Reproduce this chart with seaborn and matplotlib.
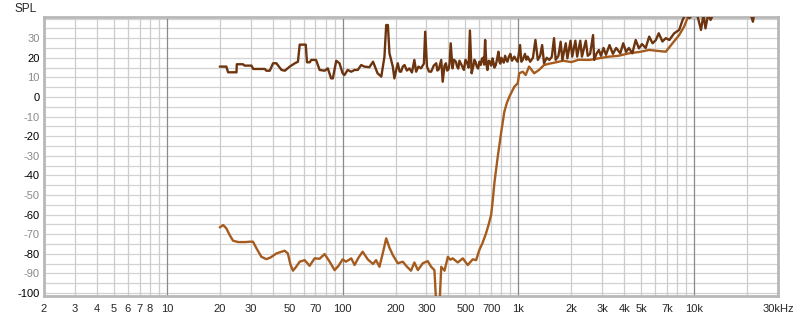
import matplotlib
matplotlib.use("Agg")
import matplotlib.pyplot as plt
import numpy as np
import pandas as pd
import seaborn as sns

# ---------------- data (frequency in Hz, SPL in dB) ----------------
light_pts = [
    (20, -66.5), (20.9, -65.3), (21.8, -67), (22.8, -70.5), (23.8, -73.3), (25.5, -74),
    (28, -74), (29.6, -73.8), (30.9, -73.8), (32.5, -77.5), (34.5, -81.5), (36.8, -82.7),
    (39, -81.8), (42, -79.8), (46.8, -78.4), (48.8, -79.8), (50.5, -85.5), (52.2, -88.6),
    (54.5, -86.5), (57, -84), (60.8, -83.2), (64.9, -86.1), (69.3, -82.3), (74, -82.5),
    (79, -80.1), (84.4, -84), (90, -88.3), (95, -86), (100, -82.8), (104.5, -84),
    (112, -82.3), (117, -85.7), (123, -82), (130, -78.9), (139, -82.8), (149, -85.2),
    (155, -83.2), (162, -86.6), (170, -79), (177, -72.1), (185, -77), (193, -80.6),
    (206, -84.8), (220, -84), (232, -86.5), (245, -88.6), (256, -84.4), (268, -88.3),
    (286, -84.8), (305, -83.7), (319, -86.6), (333, -88.3), (341, -106), (356, -106),
    (364, -86.6), (380, -88.6), (397, -81.5), (410, -83), (423, -82.3), (452, -84.4),
    (483, -82.3), (515, -85.7), (550, -82.8), (575, -83.2), (600, -78), (625, -74.5),
    (655, -69.5), (680, -64.5), (700, -60), (715, -52.6), (730, -44), (763, -30.5),
    (797, -18.5), (832, -7.5), (860, -3), (889, 0.2), (949, 5.3), (992, 7),
    (1011, 12.1), (1060, 12.9), (1100, 11.2), (1150, 15.5), (1230, 12.1), (1310, 13.8),
    (1400, 16.3), (1500, 17), (1600, 17.5), (1800, 18.5), (2000, 17.8), (2200, 19),
    (2530, 18.9), (2900, 19.8), (3290, 20.6), (3700, 21), (4275, 22.3), (4900, 23),
    (5550, 24), (6200, 23.5), (6900, 23.1), (7530, 27.4), (8220, 31.6), (8770, 35.9),
    (9160, 40.2), (9600, 45), (12000, 45), (20000, 45),
]

dark_pts = [
    (20, 15.5), (21.8, 15.5), (22.3, 12.6), (24.9, 12.6), (25, 16.7), (27.1, 16.7),
    (27.7, 16), (30.3, 16), (31, 14.3), (36.1, 14.3), (36.8, 13.4), (38.5, 13.4),
    (40.2, 17.2), (42, 17.2), (44.9, 13.8), (46.9, 13.4), (50, 15.5), (53.5, 17.2),
    (55.7, 18), (57, 26.7), (61.7, 26.7), (62.7, 17.7), (65, 17.7), (66.3, 18.9),
    (70.6, 18.9), (74, 13.8), (79, 13.4), (82.4, 14.6), (86, 9.5), (88, 9.5),
    (92, 18.5), (96, 17.2), (100, 12.1), (102.4, 11.2), (106.9, 13.8), (112, 12.9),
    (117, 13.8), (122, 13.8), (127.5, 16.3), (133, 15.5), (142, 15.2), (149, 18),
    (158, 12.1), (166, 10.4), (173, 20.6), (177, 36.7), (181, 36.7), (184.7, 22.3),
    (193, 15.5), (197, 9.5), (202, 14), (206, 17.2), (211, 13), (215, 12.9),
    (220, 15.5), (225, 16.3), (232, 13.5), (240, 14.6), (248, 12.5), (256, 18.9),
    (262, 12.9), (270, 15.5), (279, 14.6), (290, 17), (295, 33.3), (302, 15.5),
    (310, 13), (319, 12.9), (330, 16), (341, 17.2), (346, 13.5), (352, 14),
    (358, 16.5), (364, 18.9), (371, 7.8), (380, 16), (387, 17.2), (393, 13.5),
    (400, 14), (406, 17), (412, 27.4), (422, 14.6), (430, 19), (441, 18),
    (448, 15.5), (455, 14.5), (462, 18.5), (470, 17.2), (480, 15.5), (490, 13.8),
    (500, 19), (512, 17.2), (521, 15), (530, 33.9), (542, 12.1), (555, 16),
    (562, 19), (570, 18), (580, 15.5), (590, 14.5), (600, 18), (610, 16.3),
    (620, 19.5), (630, 20), (638, 16.5), (647, 29.1), (657, 17), (667, 13.8),
    (678, 18.5), (690, 18), (700, 16), (713, 19.7), (722, 17.5), (730, 15),
    (744, 16.3), (757, 19.5), (770, 23.1), (780, 18), (790, 17), (800, 20),
    (812, 18.9), (826, 17.5), (840, 21), (853, 19), (866, 18), (883, 20.5),
    (900, 22), (920, 18.5), (949, 20.6), (970, 19), (991, 18), (1022, 26.5),
    (1040, 18), (1058, 18.9), (1090, 22), (1110, 19), (1130, 20.6), (1167, 18),
    (1210, 20), (1250, 29.1), (1290, 18.9), (1330, 21), (1365, 26.5), (1400, 17.2),
    (1450, 20), (1500, 18.9), (1550, 20.5), (1595, 30), (1630, 18.9), (1690, 21),
    (1740, 28.2), (1780, 18.9), (1860, 27.4), (1900, 19.7), (1980, 28.7), (2025, 20.6),
    (2110, 28.7), (2160, 20.6), (2250, 28.7), (2300, 20.6), (2420, 28.7), (2480, 21),
    (2560, 22), (2660, 31.6), (2700, 18.9), (2780, 22), (2870, 24), (2950, 21),
    (3050, 25), (3150, 21.5), (3300, 26.5), (3450, 22), (3600, 25), (3800, 22.3),
    (3950, 27.4), (4100, 23), (4250, 25), (4450, 22.3), (4650, 29.1), (4850, 24.8),
    (5050, 27), (5300, 25), (5550, 30.8), (5800, 27.4), (6050, 29), (6290, 32.5),
    (6600, 28.3), (6900, 30), (7230, 29.1), (7700, 32.5), (8220, 34.2), (8600, 39.3),
    (8900, 42), (9400, 40.2), (9800, 42), (10400, 42), (10940, 34.2), (11300, 42),
    (11600, 35), (12000, 42), (12400, 39.3), (13000, 43), (14000, 45), (20000, 45),
    (21000, 42), (21600, 38.4), (22200, 45),
]

x_tick_vals = [2, 3, 4, 5, 6, 7, 8, 10, 20, 30, 50, 70, 100, 200, 300, 500, 700,
               1000, 2000, 3000, 4000, 5000, 7000, 10000, 30000]
x_tick_labels = ["2", "3", "4", "5", "6", "7", "8", "10", "20", "30", "50", "70", "100",
                 "200", "300", "500", "700", "1k", "2k", "3k", "4k", "5k", "7k", "10k", "30kHz"]
y_tick_vals = list(range(-100, 31, 10))

dark_color = "#6C3510"
light_color = "#A65B1E"

# ---------------- figure ----------------
sns.set_style("white")
plt.rcParams["font.family"] = ["Liberation Sans", "DejaVu Sans"]

fig = plt.figure(figsize=(8, 3.21), dpi=100)
ax = fig.add_axes([44 / 800, 25 / 321, 734 / 800, 279 / 321])

df_light = pd.DataFrame(light_pts, columns=["freq", "spl"])
df_dark = pd.DataFrame(dark_pts, columns=["freq", "spl"])

sns.lineplot(data=df_light, x="freq", y="spl", ax=ax, color=light_color,
             linewidth=1.7, sort=False, estimator=None, zorder=3)
sns.lineplot(data=df_dark, x="freq", y="spl", ax=ax, color=dark_color,
             linewidth=1.7, sort=False, estimator=None, zorder=4)

ax.set_xscale("log")
ax.set_xlim(2, 30000)
ax.set_ylim(-101.5, 40.8)

# grid
for v in range(-100, 41, 5):
    ax.axhline(v, color="#d2d2d2", lw=0.9, zorder=1)
for dec in [1, 10, 100, 1000, 10000]:
    for m in range(1, 10):
        f = m * dec
        if 2 < f < 30000:
            if m == 1:
                ax.axvline(f, color="#8a8a8a", lw=0.9, zorder=2)
            else:
                ax.axvline(f, color="#cccccc", lw=0.9, zorder=1)

ax.set_xticks(x_tick_vals)
ax.set_xticklabels(x_tick_labels)
ax.xaxis.set_minor_locator(matplotlib.ticker.NullLocator())
ax.set_yticks(y_tick_vals)
ax.set_yticklabels([str(v) for v in y_tick_vals])
for lab, v in zip(ax.get_yticklabels(), y_tick_vals):
    lab.set_color("#000000" if v % 20 == 0 else "#8a8a8a")
ax.tick_params(axis="both", length=0, labelsize=8)
ax.tick_params(axis="x", pad=6)
ax.tick_params(axis="y", pad=3)
ax.set_xlabel("")
ax.set_ylabel("")

for s in ax.spines.values():
    s.set_color("#b8b8b8")
    s.set_linewidth(2)

fig.text(14 / 800, 1 - 9 / 321, "SPL", ha="left", va="center", fontsize=8.5)

fig.savefig("out.png", dpi=100)
